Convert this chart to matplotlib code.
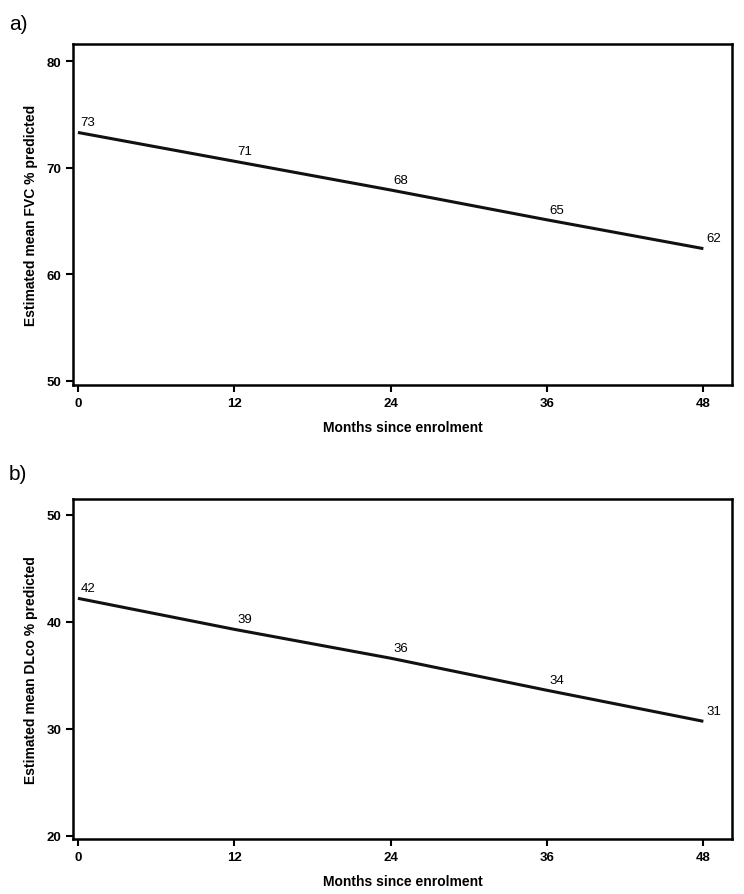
import numpy as np
import matplotlib.pyplot as plt

months = [0, 12, 24, 36, 48]
fvc = [73.3, 70.6, 67.9, 65.1, 62.4]
fvc_labels = ["73", "71", "68", "65", "62"]
dlco = [42.2, 39.3, 36.6, 33.6, 30.7]
dlco_labels = ["42", "39", "36", "34", "31"]

plt.rcParams.update({'font.family': ['Liberation Sans', 'DejaVu Sans']})

fig = plt.figure(figsize=(7.44, 8.95), dpi=100)

panels = [
    ("a)", [0.0981, 0.5687, 0.8858, 0.381], fvc, fvc_labels, (49.6, 81.6), [50, 60, 70, 80],
     "Estimated mean FVC % predicted", 0.983),
    ("b)", [0.0981, 0.0615, 0.8858, 0.380], dlco, dlco_labels, (19.7, 51.5), [20, 30, 40, 50],
     "Estimated mean DLco % predicted", 0.480),
]

for tag, rect, vals, labs, ylim, yticks, ylabel, tag_y in panels:
    ax = fig.add_axes(rect)
    ax.plot(months, vals, color='#111111', lw=2.2, solid_capstyle='butt')
    for m, v, s in zip(months, vals, labs):
        ax.annotate(s, (m, v), xytext=(2, 3), textcoords='offset points',
                    ha='left', va='bottom', fontsize=9.5)
    ax.set_xlim(-0.38, 50.2)
    ax.set_ylim(*ylim)
    ax.set_xticks(months)
    ax.set_yticks(yticks)
    ax.tick_params(direction='out', length=5, width=1.5, labelsize=9.5)
    for t in ax.get_xticklabels() + ax.get_yticklabels():
        t.set_fontweight('bold')
    for sp in ax.spines.values():
        sp.set_linewidth(1.8)
    ax.set_xlabel("Months since enrolment", fontsize=10, fontweight='bold', labelpad=8)
    ax.set_ylabel(ylabel, fontsize=10, fontweight='bold', labelpad=6)
    fig.text(0.012, tag_y, tag, fontsize=15, ha='left', va='top')

plt.savefig("out.png", dpi=100)
